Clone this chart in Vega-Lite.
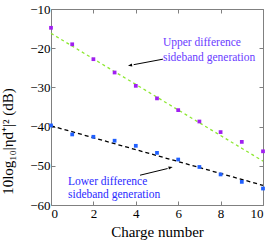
{
  "$schema": "https://vega.github.io/schema/vega-lite/v6.json",
  "width": 212,
  "height": 196,
  "autosize": "none",
  "padding": {"left": 51, "top": 9, "right": 11, "bottom": 39},
  "background": "white",
  "config": {
    "view": {"stroke": null},
    "font": "Liberation Serif",
    "axis": {
      "labelFont": "Liberation Serif",
      "labelFontSize": 13,
      "labelColor": "black",
      "titleFont": "Liberation Serif",
      "titleFontSize": 15,
      "titleFontWeight": "normal",
      "titleColor": "black",
      "domainColor": "#808080",
      "tickColor": "#808080",
      "tickSize": -4,
      "grid": false
    }
  },
  "datasets": {
    "upper": [
      {"charge": 0, "db": -14.8}, {"charge": 1, "db": -19.0}, {"charge": 2, "db": -22.8},
      {"charge": 3, "db": -26.2}, {"charge": 4, "db": -29.6}, {"charge": 5, "db": -32.8},
      {"charge": 6, "db": -35.8}, {"charge": 7, "db": -38.7}, {"charge": 8, "db": -41.4},
      {"charge": 9, "db": -43.9}, {"charge": 10, "db": -46.3}
    ],
    "lower": [
      {"charge": 0, "db": -39.7}, {"charge": 1, "db": -42.0}, {"charge": 2, "db": -42.6},
      {"charge": 3, "db": -43.6}, {"charge": 4, "db": -44.9}, {"charge": 5, "db": -46.7},
      {"charge": 6, "db": -48.4}, {"charge": 7, "db": -50.3}, {"charge": 8, "db": -52.2},
      {"charge": 9, "db": -54.1}, {"charge": 10, "db": -55.8}
    ],
    "upperFit": [{"charge": 0, "db": -16.2}, {"charge": 10, "db": -48.8}],
    "lowerFit": [{"charge": 0, "db": -39.8}, {"charge": 10, "db": -55.0}],
    "one": [{"k": 1}]
  },
  "resolve": {"axis": {"x": "independent", "y": "independent"}},
  "layer": [
    {
      "data": {"name": "upperFit"},
      "mark": {"type": "line", "color": "#8ee833", "strokeDash": [3, 3], "strokeWidth": 1.3},
      "encoding": {
        "x": {"field": "charge", "type": "quantitative", "scale": {"domain": [0, 10], "nice": false},
              "axis": {"orient": "bottom", "values": [0, 2, 4, 6, 8, 10], "title": "Charge number", "labelPadding": 6, "titlePadding": 4}},
        "y": {"field": "db", "type": "quantitative", "scale": {"domain": [-60, -10], "nice": false},
              "axis": {"orient": "left", "values": [-60, -50, -40, -30, -20, -10], "title": "10log₁₀|ηd⁺|² (dB)", "labelPadding": 5, "titleX": -36, "titleY": 132}}
      }
    },
    {
      "data": {"name": "lowerFit"},
      "mark": {"type": "line", "color": "black", "strokeDash": [4, 3], "strokeWidth": 1.3},
      "encoding": {
        "x": {"field": "charge", "type": "quantitative",
              "axis": {"orient": "top", "values": [0, 2, 4, 6, 8, 10], "labels": false, "title": null}},
        "y": {"field": "db", "type": "quantitative",
              "axis": {"orient": "right", "values": [-60, -50, -40, -30, -20, -10], "labels": false, "title": null}}
      }
    },
    {
      "data": {"name": "upper"},
      "mark": {"type": "point", "shape": "square", "filled": true, "color": "#a020f0", "size": 14, "opacity": 1},
      "encoding": {
        "x": {"field": "charge", "type": "quantitative", "axis": null},
        "y": {"field": "db", "type": "quantitative", "axis": null}
      }
    },
    {
      "data": {"name": "lower"},
      "mark": {"type": "point", "shape": "square", "filled": true, "color": "#2060ff", "size": 14, "opacity": 1},
      "encoding": {
        "x": {"field": "charge", "type": "quantitative", "axis": null},
        "y": {"field": "db", "type": "quantitative", "axis": null}
      }
    },
    {
      "data": {"name": "one"},
      "mark": {"type": "rule", "color": "black", "strokeWidth": 1},
      "encoding": {
        "x": {"datum": 5.28, "type": "quantitative", "axis": null},
        "y": {"datum": -22.8, "type": "quantitative", "axis": null},
        "x2": {"datum": 3.9},
        "y2": {"datum": -24.2}
      }
    },
    {
      "data": {"name": "one"},
      "mark": {"type": "point", "shape": "M0,0L-0.35,1L0.35,1Z", "filled": true, "color": "black", "size": 70, "angle": 259, "opacity": 1},
      "encoding": {
        "x": {"datum": 3.63, "type": "quantitative", "axis": null},
        "y": {"datum": -24.5, "type": "quantitative", "axis": null}
      }
    },
    {
      "data": {"name": "one"},
      "mark": {"type": "rule", "color": "black", "strokeWidth": 1},
      "encoding": {
        "x": {"datum": 4.2, "type": "quantitative", "axis": null},
        "y": {"datum": -52.4, "type": "quantitative", "axis": null},
        "x2": {"datum": 5.5},
        "y2": {"datum": -50.7}
      }
    },
    {
      "data": {"name": "one"},
      "mark": {"type": "point", "shape": "M0,0L-0.35,1L0.35,1Z", "filled": true, "color": "black", "size": 70, "angle": 76, "opacity": 1},
      "encoding": {
        "x": {"datum": 5.74, "type": "quantitative", "axis": null},
        "y": {"datum": -50.3, "type": "quantitative", "axis": null}
      }
    },
    {
      "data": {"name": "one"},
      "mark": {"type": "text", "text": ["Upper difference", "sideband generation"], "font": "Liberation Serif", "fontSize": 11.5, "color": "#6a3cff", "align": "left", "baseline": "alphabetic", "lineHeight": 15},
      "encoding": {
        "x": {"datum": 5.28, "type": "quantitative", "axis": null},
        "y": {"datum": -19.4, "type": "quantitative", "axis": null}
      }
    },
    {
      "data": {"name": "one"},
      "mark": {"type": "text", "text": ["Lower difference", "sideband generation"], "font": "Liberation Serif", "fontSize": 11.5, "color": "#2a2aff", "align": "left", "baseline": "alphabetic", "lineHeight": 13},
      "encoding": {
        "x": {"datum": 0.8, "type": "quantitative", "axis": null},
        "y": {"datum": -54.9, "type": "quantitative", "axis": null}
      }
    }
  ]
}
